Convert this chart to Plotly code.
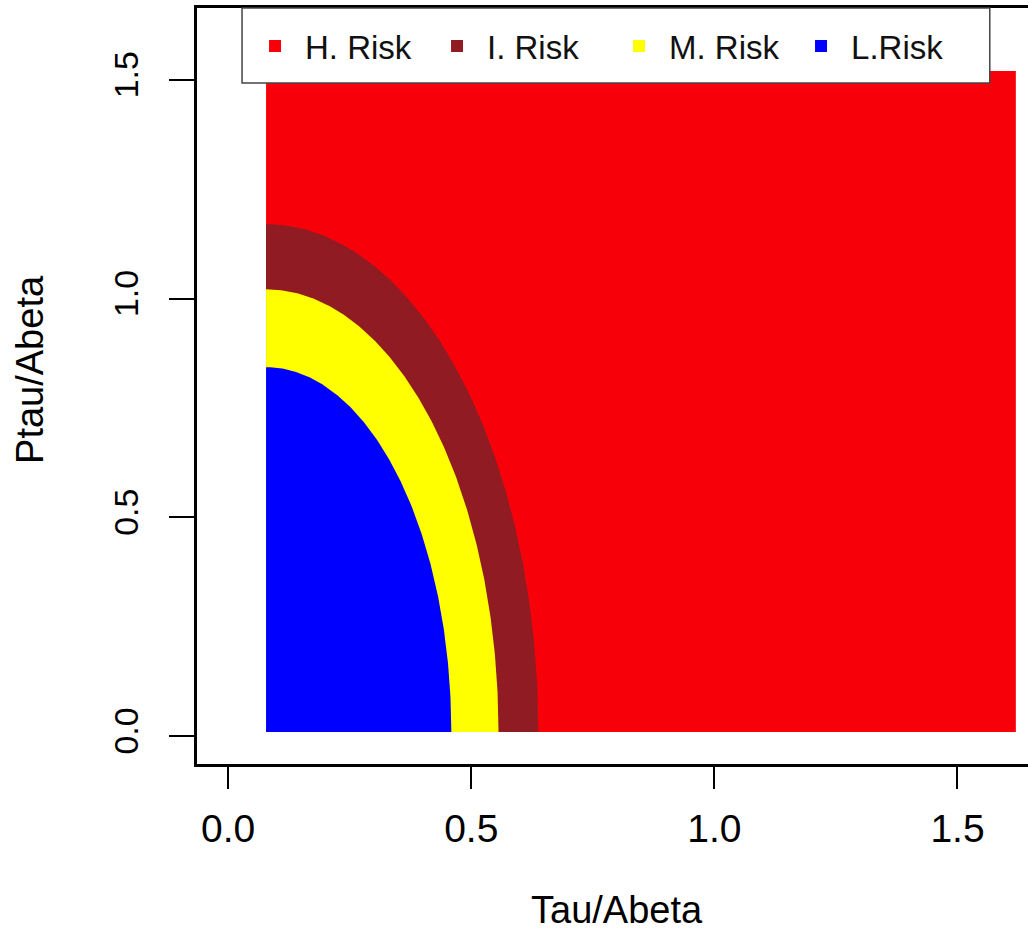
import numpy as np
import plotly.graph_objects as go

# ---- data ----
zones = ["H. Risk", "I. Risk", "M. Risk", "L.Risk"]
colors = ["#F8000A", "#911B22", "#FFFF00", "#0000FF"]
origin_x = 0.078          # lower-left corner of the coloured region
origin_y = 0.009
red_right = 1.62          # outer limits of high-risk region
red_top = 1.52
semi_x = [None, 0.560, 0.478, 0.381]   # Tau/Abeta extent of each inner zone
semi_y = [None, 1.161, 1.012, 0.834]   # Ptau/Abeta extent of each inner zone
xticks = [0.0, 0.5, 1.0, 1.5]
yticks = [0.0, 0.5, 1.0, 1.5]
tick_labels = ["0.0", "0.5", "1.0", "1.5"]

fig = go.Figure()

# high-risk rectangle
fig.add_trace(go.Scatter(
    x=[origin_x, red_right, red_right, origin_x, origin_x],
    y=[origin_y, origin_y, red_top, red_top, origin_y],
    fill="toself", fillcolor=colors[0], mode="lines", line=dict(width=0),
    showlegend=False, hoverinfo="skip"))

# quarter-ellipse zones
t = np.linspace(0, np.pi / 2, 200)
for i in range(1, 4):
    ex = origin_x + semi_x[i] * np.cos(t)
    ey = origin_y + semi_y[i] * np.sin(t)
    xs = np.concatenate([[origin_x], ex, [origin_x]])
    ys = np.concatenate([[origin_y], ey, [origin_y]])
    fig.add_trace(go.Scatter(
        x=xs, y=ys, fill="toself", fillcolor=colors[i], mode="lines",
        line=dict(width=0), showlegend=False, hoverinfo="skip"))

# legend entries
for name, col in zip(zones, colors):
    fig.add_trace(go.Scatter(
        x=[None], y=[None], mode="markers", name=name,
        marker=dict(symbol="square", size=15, color=col)))

font = "Liberation Sans, Arial, Helvetica, sans-serif"

fig.update_layout(
    width=1028, height=932,
    margin=dict(l=197, r=0, t=8, b=168),
    paper_bgcolor="white", plot_bgcolor="white",
    font=dict(family=font, color="black"),
    showlegend=True,
    legend=dict(
        orientation="h", x=0.0578, y=0.9497, xanchor="left", yanchor="middle",
        bgcolor="rgba(0,0,0,0)", borderwidth=0,
        font=dict(size=33, family=font, color="#111"),
        entrywidth=117, entrywidthmode="pixels", itemwidth=50,
        itemsizing="constant", traceorder="normal"),
    xaxis=dict(
        range=[-0.064, 1.645], showgrid=False, zeroline=False,
        showline=True, linecolor="black", linewidth=2.5, mirror=True,
        ticks="outside", ticklen=22, tickwidth=2, tickcolor="black",
        tickvals=xticks, ticktext=tick_labels, ticklabelstandoff=6,
        tickfont=dict(size=39, family=font, color="black")),
    yaxis=dict(
        range=[-0.064, 1.664], showgrid=False, zeroline=False,
        showline=True, linecolor="black", linewidth=2.5,
        ticks="outside", ticklen=25, tickwidth=2, tickcolor="black",
        tickvals=yticks, ticktext=tick_labels, tickangle=-90,
        ticklabelstandoff=18,
        tickfont=dict(size=34, family=font, color="black")),
    shapes=[
        dict(type="rect", xref="paper", yref="paper",
             x0=0.0542, x1=0.954, y0=0.9008, y1=1.0,
             line=dict(color="#444", width=1.5), fillcolor="white", layer="above"),
    ],
    annotations=[
        dict(text="Tau/Abeta", xref="paper", yref="paper", x=0.505, y=-0.193,
             xanchor="center", yanchor="middle", showarrow=False,
             font=dict(size=38, family=font, color="black")),
        dict(text="Ptau/Abeta", xref="paper", yref="paper", x=-0.201, y=0.5225,
             xanchor="center", yanchor="middle", showarrow=False, textangle=-90,
             font=dict(size=38, family=font, color="black")),
    ],
)

fig.write_html("out.html")
